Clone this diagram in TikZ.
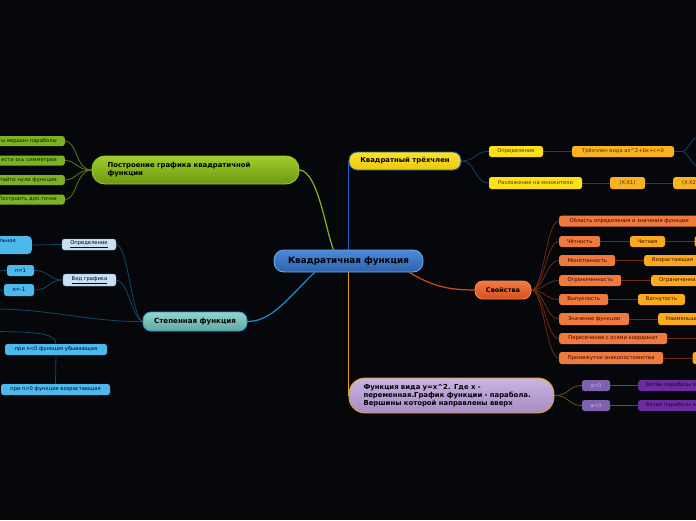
\documentclass[tikz,border=0pt]{standalone}
\usepackage{fontspec}
\setmainfont{DejaVu Sans}
\pgfdeclarelayer{bg}\pgfdeclarelayer{lines}
\pgfsetlayers{bg,lines,main}
\definecolor{bgc}{HTML}{05070A}
\definecolor{cfillT}{HTML}{4A8AD8}\definecolor{cfillB}{HTML}{2E62AE}\definecolor{cdraw}{HTML}{6FA8E8}
\definecolor{gT}{HTML}{A2CC2C}\definecolor{gB}{HTML}{6C9812}\definecolor{gD}{HTML}{9CC82A}
\definecolor{gk}{HTML}{7DB022}
\definecolor{yT}{HTML}{FBE42A}\definecolor{yB}{HTML}{EBC80E}\definecolor{yD}{HTML}{1E5AB0}
\definecolor{yk}{HTML}{FFE014}\definecolor{yg}{HTML}{FBB21C}
\definecolor{sT}{HTML}{F07A44}\definecolor{sB}{HTML}{D8501E}\definecolor{sD}{HTML}{F08A5A}
\definecolor{ok}{HTML}{EE7A3E}\definecolor{og}{HTML}{FBAA1E}
\definecolor{pT}{HTML}{C8B4E0}\definecolor{pB}{HTML}{A88CC6}\definecolor{pD}{HTML}{E0A020}
\definecolor{pk}{HTML}{7E62B0}\definecolor{pv}{HTML}{6A2CA0}
\definecolor{tT}{HTML}{96D4CC}\definecolor{tB}{HTML}{5EA89E}\definecolor{tD}{HTML}{2E9AD8}
\definecolor{lb}{HTML}{C8E0F2}\definecolor{bk}{HTML}{4DB8EA}
\definecolor{lnGreen}{HTML}{8BB31B}\definecolor{lnGreenK}{HTML}{5E7A16}
\definecolor{lnBlue}{HTML}{1F60C8}\definecolor{lnBlueK}{HTML}{1C3E6E}
\definecolor{lnOr}{HTML}{D8481A}\definecolor{lnOrK}{HTML}{6E2A12}
\definecolor{lnGold}{HTML}{E0A010}\definecolor{lnGoldK}{HTML}{6A5410}
\definecolor{lnTeal}{HTML}{1E90D0}\definecolor{lnTealK}{HTML}{0E4A68}
\tikzset{
  bigbox/.style={draw, line width=0.9pt, inner sep=0pt, font=\bfseries\fontsize{6.9}{8}\selectfont, text=black},
  sm/.style={inner sep=0pt, rounded corners=2.5pt, minimum height=11pt, font=\fontsize{5.2}{6}\selectfont},
  gkid/.style={sm, fill=gk, minimum height=10pt, text=black!85!green, anchor=east, text width=100pt, align=right, inner xsep=8pt},
  ykid/.style={sm, fill=yk, text=black!80},
  ygk/.style={sm, fill=yg, text=black!80},
  okid/.style={sm, fill=ok, text=black!75!red, anchor=west},
  ogk/.style={sm, fill=og, text=black!75!red},
  pkid/.style={sm, fill=pk, text=pT},
  pvk/.style={sm, fill=pv, text=black!70!violet, anchor=west, text width=70pt, align=left, inner xsep=8pt},
  lbk/.style={sm, fill=lb, draw=lb!70!blue, line width=0.3pt, text=black!85!blue},
  bkid/.style={sm, fill=bk, text=black!80!blue},
  mainln/.style={line width=1.2pt},
  kidln/.style={line width=0.8pt},
}
\begin{document}
\begin{tikzpicture}[x=1pt,y=-1pt]
\useasboundingbox (0,0) rectangle (696,520);
\begin{pgfonlayer}{bg}
\fill[bgc] (0,0) rectangle (696,520);
\end{pgfonlayer}

% central
\node[bigbox, draw=cdraw, top color=cfillT, bottom color=cfillB, rounded corners=10pt,
      minimum width=149pt, minimum height=22pt, font=\bfseries\fontsize{8.8}{10}\selectfont] (c) at (348.5,261) {Квадратичная функция};

% green branch
\node[bigbox, draw=gD, top color=gT, bottom color=gB, rounded corners=13pt,
      minimum width=207pt, minimum height=28pt, text width=176pt, align=left] (g) at (195.5,170) {Построение графика квадратичной\\функции};
\node[gkid] (g1) at (65,141) {ы вершин параболы};
\node[gkid] (g2) at (65,160.5) {ести ось симметрии};
\node[gkid] (g3) at (65,180) {Найти нули функции};
\node[gkid] (g4) at (65,199.5) {Построить доп.точки};

% yellow branch
\node[bigbox, draw=yD, top color=yT, bottom color=yB, rounded corners=8pt,
      minimum width=112pt, minimum height=18pt] (y) at (405,161) {Квадратный трёхчлен};
\node[ykid, minimum width=54pt] (y1) at (516,151.5) {Определение};
\node[ykid, minimum width=93pt, minimum height=12pt] (y2) at (535.5,183) {Разложение на множители};
\node[ygk, minimum width=102pt] (y3) at (623,151.5) {Трёхчлен вида ax\textasciicircum 2+bx+c=0};
\node[ygk, minimum width=35pt, minimum height=12pt] (y4) at (627.5,183) {(X-X1)};
\node[ygk, minimum height=12pt, anchor=west, text width=40pt, align=left, inner xsep=9pt] (y5) at (673,183) {(X-X2)};
\coordinate (t1) at (700,136);
\coordinate (t2) at (700,167);

% orange branch
\node[bigbox, draw=sD, top color=sT, bottom color=sB, rounded corners=8pt,
      minimum width=56pt, minimum height=18pt, font=\bfseries\fontsize{6.5}{7}\selectfont] (sv) at (503,290) {Свойства};
\node[okid, minimum width=140pt] (o1) at (559,221) {Область определения и значения функции};
\node[okid, minimum width=41pt] (o2) at (559,241.5) {Чётность};
\node[okid, minimum width=56pt] (o3) at (559,260.5) {Монотонность};
\node[okid, minimum width=62pt] (o4) at (559,280.5) {Ограниченность};
\node[okid, minimum width=49pt] (o5) at (559,299.5) {Выпуклость};
\node[okid, minimum width=70pt, minimum height=12pt] (o6) at (559,319) {Значение функции};
\node[okid, minimum width=108pt] (o7) at (559,338.5) {Пересечение с осями координат};
\node[okid, minimum width=104pt, minimum height=12pt] (o8) at (559,358) {Промежутки знакопостоянства};
\node[ogk, minimum width=35pt] (q2) at (647.5,241.5) {Четная};
\node[ogk, minimum width=30pt, anchor=west] (q2b) at (694.5,241.5) {};
\node[ogk, anchor=west, text width=70pt, align=left, inner xsep=8pt] (q3) at (644,260.5) {Возрастающая};
\node[ogk, anchor=west, text width=70pt, align=left, inner xsep=8pt] (q4) at (651,280.5) {Ограниченная};
\node[ogk, minimum width=47pt] (q5) at (661.5,299.5) {Вогнутость};
\node[ogk, anchor=west, text width=70pt, align=left, inner xsep=8pt, minimum height=12pt] (q6) at (658,319) {Наименьшее};
\coordinate (q7) at (698,338.5);
\node[ogk, minimum width=30pt, anchor=west, minimum height=12pt] (q8) at (692.5,358) {};

% purple branch
\node[bigbox, draw=pD, top color=pT, bottom color=pB, rounded corners=16pt,
      minimum width=205pt, minimum height=35pt, text width=176pt, align=left,
      font=\bfseries\fontsize{6.9}{7.8}\selectfont] (pu) at (451.5,395.5)
      {Функция вида y=x\textasciicircum 2. Где x -\\переменная.График функции - парабола.\\Вершины которой направлены вверх};
\node[pkid, minimum width=28pt] (a1) at (596,385.5) {a>0};
\node[pkid, minimum width=28pt] (a2) at (596,405.5) {a<0};
\node[pvk] (v1) at (638,385.5) {Ветви параболы вверх};
\node[pvk] (v2) at (638,405.5) {Ветви параболы вниз};

% teal branch
\node[bigbox, draw=tD, top color=tT, bottom color=tB, rounded corners=8pt,
      minimum width=104pt, minimum height=19pt, font=\bfseries\fontsize{7.1}{8}\selectfont] (st) at (195,321.5) {Степенная функция};
\node[lbk, minimum width=54pt] (s1) at (89,244.5) {\underline{Определение}};
\node[lbk, minimum width=53pt, minimum height=12pt] (s2) at (89.5,280) {\underline{Вид графика}};
\node[bkid, anchor=east, minimum height=18pt, text width=76pt, align=right, inner xsep=16pt, rounded corners=4pt] (s0) at (32,245) {льное\\[1pt]\mbox{}};
\node[bkid, minimum width=27pt] (n1) at (20.5,270.5) {n=1};
\node[bkid, minimum width=30pt, minimum height=12pt] (n2) at (19,290) {n=-1};
\node[bkid, minimum width=102pt] (m1) at (56,349.5) {при n<0 функция убывающая};
\node[bkid, minimum width=109pt] (m2) at (55.5,389.5) {при n>0 функция возрастающая};
\coordinate (l1) at (-5,309);
\coordinate (l2) at (-5,331.5);
\coordinate (l3) at (-5,271);
\coordinate (l4) at (-5,290.5);

\begin{pgfonlayer}{lines}
% central connectors
\draw[mainln, lnGreen] (g.east) .. controls (318,171) and (326,232) .. ([xshift=-15pt]c.north);
\draw[mainln, lnBlue] (c.north) -- (c.north |- y.west);
\draw[mainln, lnGold] (c.south) -- (c.south |- pu.west);
\draw[mainln, lnOr] ([xshift=-14pt]c.south east) .. controls (432,286) and (448,290) .. (sv.west);
\draw[mainln, lnTeal] ([xshift=-34pt]c.south) .. controls (288,298) and (272,321.5) .. (st.east);
% green kids
\foreach \k in {g1,g2,g3,g4}
  \draw[kidln, lnGreenK] (\k.east) .. controls +(12,0) and (76,170) .. (g.west);
% yellow kids
\foreach \k in {y1,y2}
  \draw[kidln, lnBlueK] (y.east) .. controls (476,161) and (474,0 |- \k.west) .. (\k.west);
\draw[kidln, lnBlueK] (y1.east) -- (y3.west);
\draw[kidln, lnBlueK] (y2.east) -- (y4.west);
\draw[kidln, lnBlueK] (y4.east) -- (y5.west);
\draw[kidln, lnBlueK] (y3.east) -- +(8,0) .. controls +(6,0) and (690,138) .. (t1);
\draw[kidln, lnBlueK] (y3.east) -- +(8,0) .. controls +(6,0) and (690,165) .. (t2);
% orange kids
\foreach \k in {o1,o2,o3,o4,o5,o6,o7,o8}
  \draw[kidln, lnOrK] (sv.east) .. controls (544,290) and (546,0 |- \k.west) .. (\k.west);
\draw[kidln, lnOrK] (o2.east) -- (q2.west);
\draw[kidln, lnOrK] (q2.east) -- (q2b.west);
\draw[kidln, lnOrK] (o3.east) -- (q3.west);
\draw[kidln, lnOrK] (o4.east) -- (q4.west);
\draw[kidln, lnOrK] (o5.east) -- (q5.west);
\draw[kidln, lnOrK] (o6.east) -- (q6.west);
\draw[kidln, lnOrK] (o7.east) -- (q7);
\draw[kidln, lnOrK] (o8.east) -- (q8.west);
% purple kids
\foreach \k in {a1,a2}
  \draw[kidln, lnGoldK] (pu.east) .. controls (570,395.5) and (568,0 |- \k.west) .. (\k.west);
\draw[kidln, lnGoldK] (a1.east) -- (v1.west);
\draw[kidln, lnGoldK] (a2.east) -- (v2.west);
% teal kids
\foreach \k in {s1,s2}
  \draw[kidln, lnTealK] (\k.east) .. controls (128,0 |- \k.east) and (132,318) .. (st.west);
\draw[kidln, lnTealK] (st.west) .. controls (90,322) and (50,309) .. (l1);
\draw[kidln, lnTealK] (l2) .. controls (35,332) and (56,333) .. (m1.north);
\draw[kidln, lnTealK] (m1.south) -- (m2.north);
\draw[kidln, lnTealK] (s0.east) -- (s1.west);
\foreach \k in {n1,n2}
  \draw[kidln, lnTealK] (\k.east) .. controls (50,0 |- \k.east) and (48,280) .. (s2.west);
\draw[kidln, lnTealK] (n1.west) -- (l3);
\draw[kidln, lnTealK] (n2.west) -- (l4);
\end{pgfonlayer}
\end{tikzpicture}
\end{document}
